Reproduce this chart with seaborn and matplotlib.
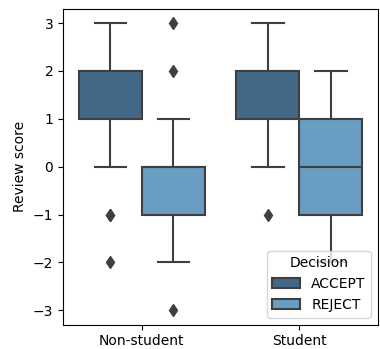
import matplotlib
matplotlib.use("Agg")
import matplotlib.pyplot as plt
import seaborn as sns
import pandas as pd

# Review scores per group (integer scale -3..3)
nonstudent_accept = [-2, -1, -1, 0, 1, 1, 1, 1, 1, 2, 2, 2, 2, 2, 2, 2, 2, 2, 3, 3]
nonstudent_reject = [-3, -2, -1, -1, -1, -1, -1, -1, 0, 0, 0, 0, 0, 0, 0, 0, 0, 1, 2, 3]
student_accept = [-1, 0, 1, 1, 1, 1, 1, 2, 2, 2, 2, 2, 2, 2, 2, 2, 2, 3, 3]
student_reject = [-2, -1, -1, -1, 0, 0, 0, 1, 1, 1, 2]

groups = ["Non-student", "Student"]
decisions = ["ACCEPT", "REJECT"]
colors = ["#436887", "#699dc2"]

rows = []
for grp, dec, vals in [
    ("Non-student", "ACCEPT", nonstudent_accept),
    ("Non-student", "REJECT", nonstudent_reject),
    ("Student", "ACCEPT", student_accept),
    ("Student", "REJECT", student_reject),
]:
    rows += [{"Status": grp, "Decision": dec, "Review score": v} for v in vals]
df = pd.DataFrame(rows)

fig, ax = plt.subplots(figsize=(3.8, 3.49), dpi=100)
sns.boxplot(
    data=df, x="Status", y="Review score", hue="Decision",
    order=groups, hue_order=decisions, palette=colors, saturation=1,
    linecolor="#3f3f3f", linewidth=1.5,
    flierprops=dict(marker="d", markerfacecolor="#3f3f3f", markeredgecolor="#3f3f3f", markersize=6),
    ax=ax,
)
ax.set_xlabel("")
ax.set_ylabel("Review score")
ax.set_yticks([-3, -2, -1, 0, 1, 2, 3])
ax.set_ylim(-3.3, 3.3)
ax.legend(title="Decision", loc="lower right")
fig.subplots_adjust(left=0.166, right=0.995, top=0.975, bottom=0.07)
fig.savefig("out.png", dpi=100)
